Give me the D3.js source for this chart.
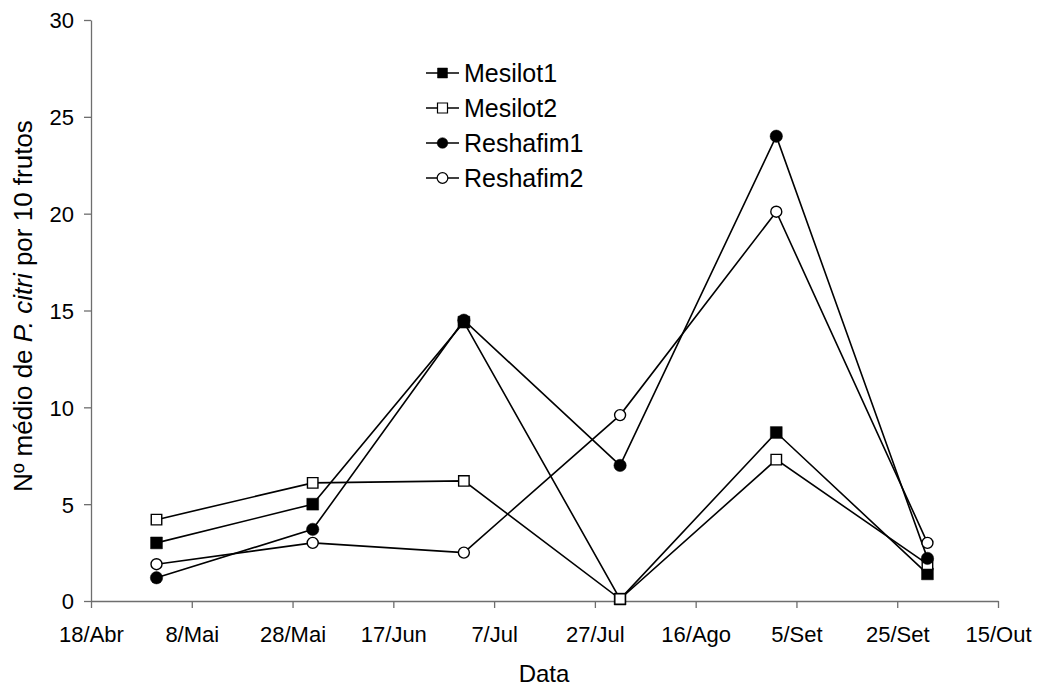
<!DOCTYPE html>
<html>
<head>
<meta charset="utf-8">
<script src="https://cdn.jsdelivr.net/npm/d3@7"></script>
<style>
  body { margin: 0; background: #fff; }
  text { font-family: "Liberation Sans", Arial, sans-serif; fill: #000; }
</style>
</head>
<body>
<script>
// sample dates (day/month)
var sampleDates = ["2003-05-01", "2003-06-01", "2003-07-01", "2003-08-01", "2003-09-01", "2003-10-01"]

var mesilot1  = [3.0, 5.0, 14.4, 0.1, 8.7, 1.4]
var mesilot2  = [4.2, 6.1, 6.2, 0.1, 7.3, 1.9]
var reshafim1 = [1.2, 3.7, 14.5, 7.0, 24.0, 2.2]
var reshafim2 = [1.9, 3.0, 2.5, 9.6, 20.1, 3.0]

var seriesNames = ["Mesilot1", "Mesilot2", "Reshafim1", "Reshafim2"]

var xTickDates  = ["2003-04-18", "2003-05-08", "2003-05-28", "2003-06-17", "2003-07-07",
                   "2003-07-27", "2003-08-16", "2003-09-05", "2003-09-25", "2003-10-15"]
var xTickLabels = ["18/Abr", "8/Mai", "28/Mai", "17/Jun", "7/Jul", "27/Jul", "16/Ago", "5/Set", "25/Set", "15/Out"]
var yTicks = [0, 5, 10, 15, 20, 25, 30]

var W = 1038, H = 690
var margin = {top: 20, right: 40, bottom: 89, left: 91}
var width = 998 - margin.left,
    height = 601 - margin.top

var parse = d3.utcParse("%Y-%m-%d")

var svg = d3.select("body").append("svg")
  .attr("width", W)
  .attr("height", H)

var g = svg.append("g")
  .attr("transform", "translate(" + margin.left + "," + margin.top + ")")

var xScale = d3.scaleUtc()
  .domain([parse(xTickDates[0]), parse(xTickDates[xTickDates.length - 1])])
  .range([0, width])
var yScale = d3.scaleLinear().domain([0, 30]).range([height, 0])

// axes
var xAxis = d3.axisBottom(xScale)
  .tickValues(xTickDates.map(parse))
  .tickSize(7)
  .tickSizeOuter(0)
  .tickFormat(function(d, i) { return xTickLabels[i] })
var yAxis = d3.axisLeft(yScale)
  .tickValues(yTicks)
  .tickSize(7)
  .tickSizeOuter(0)

var gx = g.append("g")
  .attr("transform", "translate(0," + height + ")")
  .call(xAxis)
gx.selectAll("text").attr("y", 41).attr("dy", null).style("font-size", "22px")

var gy = g.append("g").call(yAxis)
gy.selectAll("text").attr("x", -17).attr("dy", "0.36em").style("font-size", "22px")

svg.selectAll(".domain, .tick line").attr("stroke", "#6e6e6e").attr("stroke-width", 1.3)

// titles
svg.append("text")
  .attr("x", 544)
  .attr("y", 682)
  .attr("text-anchor", "middle")
  .style("font-size", "24px")
  .text("Data")

var yTitle = svg.append("text")
  .attr("transform", "translate(32,306) rotate(-90)")
  .attr("text-anchor", "middle")
  .style("font-size", "26px")
yTitle.append("tspan").text("Nº médio de ")
yTitle.append("tspan").style("font-style", "italic").text("P. citri")
yTitle.append("tspan").text(" por 10 frutos")

// series
var allSeries = [mesilot1, mesilot2, reshafim1, reshafim2]
var markers = [
  {shape: d3.symbolSquare, fill: "#000"},
  {shape: d3.symbolSquare, fill: "#fff"},
  {shape: d3.symbolCircle, fill: "#000"},
  {shape: d3.symbolCircle, fill: "#fff"}
]

var line = d3.line()
  .x(function(d, i) { return xScale(parse(sampleDates[i])) })
  .y(function(d) { return yScale(d) })

allSeries.forEach(function(vals) {
  g.append("path")
    .attr("d", line(vals))
    .attr("fill", "none")
    .attr("stroke", "#000")
    .attr("stroke-width", 1.6)
})

allSeries.forEach(function(vals, s) {
  var m = markers[s]
  var filled = m.fill === "#000"
  var size = m.shape === d3.symbolSquare ? (filled ? 140 : 110) : (filled ? 120 : 95)
  g.selectAll(null)
    .data(vals)
    .enter().append("path")
    .attr("transform", function(d, i) {
      return "translate(" + xScale(parse(sampleDates[i])) + "," + yScale(d) + ")"
    })
    .attr("d", d3.symbol().type(m.shape).size(size))
    .attr("fill", m.fill)
    .attr("stroke", "#000")
    .attr("stroke-width", filled ? 0.5 : 1.4)
})

// legend
var legend = svg.append("g").attr("transform", "translate(426,73)")
seriesNames.forEach(function(name, i) {
  var row = legend.append("g").attr("transform", "translate(0," + (i * 35) + ")")
  row.append("line")
    .attr("x1", 0).attr("x2", 33)
    .attr("stroke", "#000").attr("stroke-width", 1.6)
  var m = markers[i]
  row.append("path")
    .attr("transform", "translate(16.5,0)")
    .attr("d", d3.symbol().type(m.shape).size(m.shape === d3.symbolSquare ? 100 : 90))
    .attr("fill", m.fill)
    .attr("stroke", "#000")
    .attr("stroke-width", m.fill === "#000" ? 0.5 : 1.2)
  row.append("text")
    .attr("x", 38)
    .attr("y", 9)
    .style("font-size", "25px")
    .text(name)
})
</script>
</body>
</html>
